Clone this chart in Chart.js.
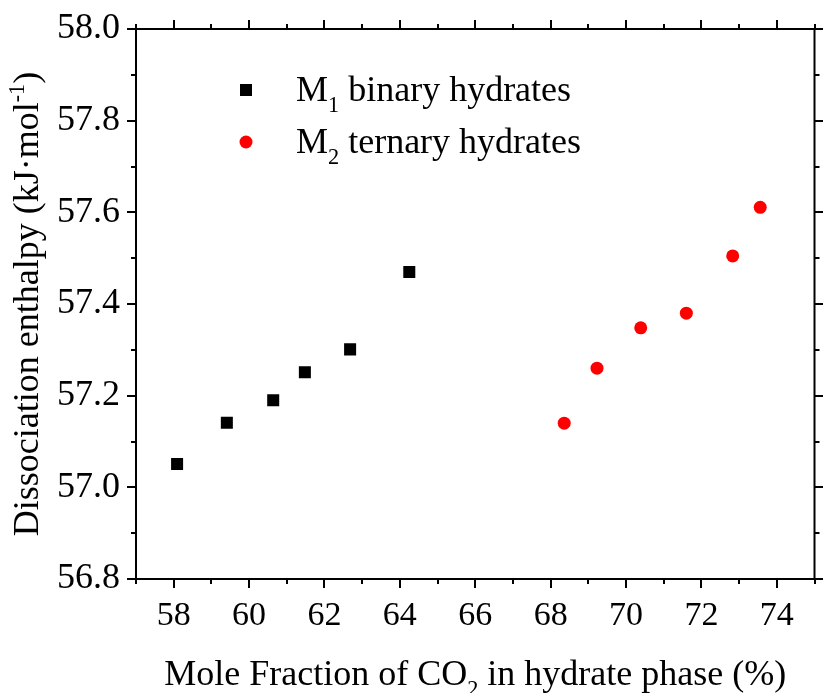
<!DOCTYPE html>
<html>
<head>
<meta charset="utf-8">
<script src="https://cdn.jsdelivr.net/npm/chart.js@4.4.1/dist/chart.umd.min.js"></script>
<style>
html,body{margin:0;padding:0;background:#fff;}
#wrap{width:823px;height:693px;}
</style>
</head>
<body>
<div id="wrap"><canvas id="c" width="823" height="693"></canvas></div>
<script>
// ---- data ----
const xM1 = [58.09, 59.41, 60.64, 61.48, 62.68, 64.25];
const yM1 = [57.051, 57.141, 57.190, 57.251, 57.301, 57.470];
const xM2 = [68.36, 69.23, 70.39, 71.60, 72.83, 73.56];
const yM2 = [57.140, 57.260, 57.348, 57.380, 57.505, 57.611];
const xTickValues = [58, 60, 62, 64, 66, 68, 70, 72, 74];
const yTickValues = [56.8, 57.0, 57.2, 57.4, 57.6, 57.8, 58.0];
const seriesNames = ["M1 binary hydrates", "M2 ternary hydrates"];
const legendM1 = [{t: "M"}, {t: "1", sub: true}, {t: " binary hydrates"}];
const legendM2 = [{t: "M"}, {t: "2", sub: true}, {t: " ternary hydrates"}];
const xTitle = [{t: "Mole Fraction of CO"}, {t: "2", sub: true}, {t: " in hydrate phase (%)"}];
const yTitle = [{t: "Dissociation enthalpy (kJ\u00B7mol"}, {t: "-1", sup: true}, {t: ")"}];

const FAMILY = '"Liberation Serif", "Times New Roman", Times, serif';

function toPts(xs, ys) { return xs.map((x, i) => ({x: x, y: ys[i]})); }

function drawRich(ctx, segs, size, align) {
  const parts = segs.map(s => {
    const fs = (s.sub || s.sup) ? size * 0.62 : size;
    ctx.font = fs + 'px ' + FAMILY;
    return {s: s, fs: fs, w: ctx.measureText(s.t).width};
  });
  const total = parts.reduce((a, p) => a + p.w, 0);
  let x = align === 'center' ? -total / 2 : 0;
  ctx.textBaseline = 'alphabetic';
  ctx.textAlign = 'left';
  parts.forEach(p => {
    ctx.font = p.fs + 'px ' + FAMILY;
    let dy = 0;
    if (p.s.sub) dy = size * 0.30;
    if (p.s.sup) dy = -size * 0.38;
    ctx.fillText(p.s.t, x, dy);
    x += p.w;
  });
}

const framePlugin = {
  id: 'frame',
  afterDraw(chart) {
    const ctx = chart.ctx;
    const a = chart.chartArea;
    const xs = chart.scales.x, ys = chart.scales.y;
    ctx.save();
    ctx.strokeStyle = '#000';
    ctx.fillStyle = '#000';
    ctx.lineWidth = 2;
    ctx.strokeRect(a.left, a.top, a.right - a.left, a.bottom - a.top);
    // x ticks (major every 2, minor every 1)
    ctx.beginPath();
    for (let v = Math.ceil(xs.min); v <= xs.max; v++) {
      const px = Math.round(xs.getPixelForValue(v));
      const len = (v % 2 === 0) ? 9 : 5;
      ctx.moveTo(px, a.bottom); ctx.lineTo(px, a.bottom + len);
      ctx.moveTo(px, a.top); ctx.lineTo(px, a.top - len);
    }
    // y ticks (major every 0.2, minor every 0.1)
    for (let k = 0; k <= 12; k++) {
      const v = ys.min + k * 0.1;
      const py = Math.round(ys.getPixelForValue(v));
      const len = (k % 2 === 0) ? 9 : 5;
      ctx.moveTo(a.left, py); ctx.lineTo(a.left - len, py);
      ctx.moveTo(a.right, py); ctx.lineTo(a.right + len, py);
    }
    ctx.stroke();

    // axis titles
    ctx.save();
    ctx.translate((a.left + a.right) / 2, 685);
    drawRich(ctx, xTitle, 36, 'center');
    ctx.restore();
    ctx.save();
    ctx.translate(38, (a.top + a.bottom) / 2);
    ctx.rotate(-Math.PI / 2);
    drawRich(ctx, yTitle, 36, 'center');
    ctx.restore();

    // legend
    const d0 = chart.data.datasets[0], d1 = chart.data.datasets[1];
    ctx.fillStyle = d0.backgroundColor;
    ctx.fillRect(246 - 6, 90 - 6, 12, 12);
    ctx.fillStyle = d1.backgroundColor;
    ctx.beginPath(); ctx.arc(246, 142, 6.5, 0, Math.PI * 2); ctx.fill();
    ctx.fillStyle = '#000';
    ctx.save(); ctx.translate(296, 101); drawRich(ctx, legendM1, 36, 'left'); ctx.restore();
    ctx.save(); ctx.translate(296, 153); drawRich(ctx, legendM2, 36, 'left'); ctx.restore();
    ctx.restore();
  }
};

new Chart(document.getElementById('c'), {
  type: 'scatter',
  data: {
    datasets: [
      {label: seriesNames[0], data: toPts(xM1, yM1), pointStyle: 'rect', pointRadius: 8.5,
       backgroundColor: '#000000', borderColor: '#000000', pointBorderWidth: 0, pointHoverRadius: 8.5},
      {label: seriesNames[1], data: toPts(xM2, yM2), pointStyle: 'circle', pointRadius: 6.5,
       backgroundColor: '#ff0000', borderColor: '#ff0000', pointBorderWidth: 0, pointHoverRadius: 6.5}
    ]
  },
  options: {
    responsive: false,
    devicePixelRatio: 1,
    animation: false,
    events: [],
    layout: {padding: {left: 0, top: 29, right: 4, bottom: 0}},
    plugins: {legend: {display: false}, tooltip: {enabled: false}, title: {display: false}},
    scales: {
      x: {
        type: 'linear', min: 57, max: 75,
        afterBuildTicks: s => { s.ticks = xTickValues.map(v => ({value: v})); },
        afterFit: s => { s.height = 114; s.paddingLeft = 0; s.paddingRight = 0; },
        grid: {display: false, drawTicks: false},
        border: {display: false},
        ticks: {color: '#000', font: {family: FAMILY, size: 34}, padding: 17, maxRotation: 0, autoSkip: false,
                callback: v => String(v)}
      },
      y: {
        type: 'linear', min: 56.8, max: 58.0,
        afterBuildTicks: s => { s.ticks = yTickValues.map(v => ({value: v})); },
        afterFit: s => { s.width = 136; s.paddingTop = 0; s.paddingBottom = 0; },
        grid: {display: false, drawTicks: false},
        border: {display: false},
        ticks: {color: '#000', font: {family: FAMILY, size: 36}, padding: 16, autoSkip: false,
                callback: v => Number(v).toFixed(1)}
      }
    }
  },
  plugins: [framePlugin]
});
</script>
</body>
</html>
